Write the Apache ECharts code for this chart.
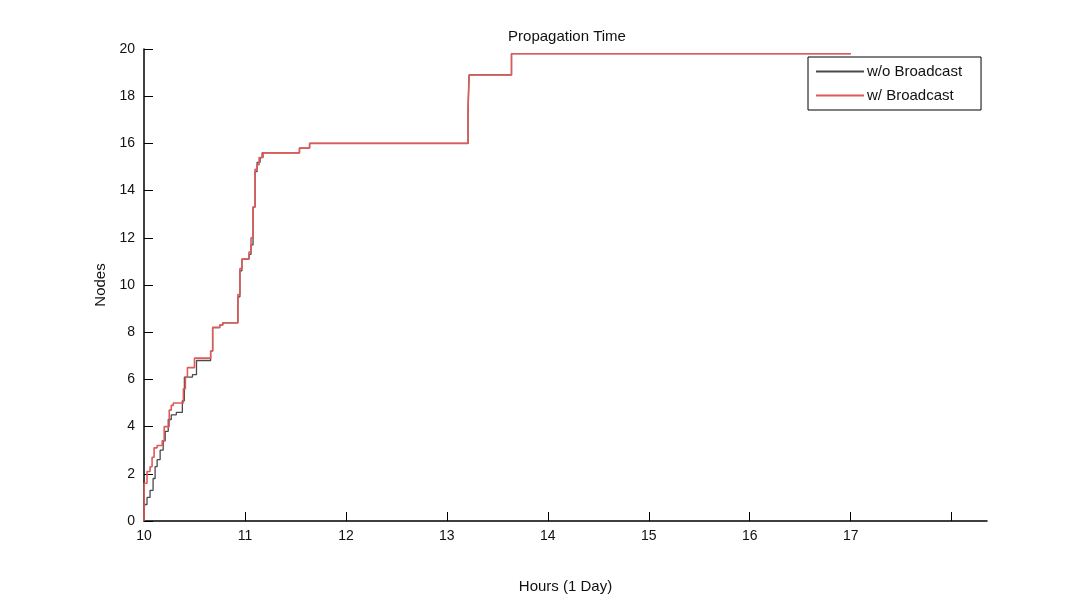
<!DOCTYPE html>
<html>
<head>
<meta charset="utf-8">
<script src="https://cdn.jsdelivr.net/npm/echarts@6/dist/echarts.min.js"></script>
<style>
  html, body { margin: 0; padding: 0; background: #ffffff; }
  #chart { width: 1077px; height: 605px; }
</style>
</head>
<body>
<div id="chart"></div>
<script>
// Cumulative node counts over time; each [hour, nodes] holds until the next point.
const seriesNames = ['w/o Broadcast', 'w/ Broadcast'];
const withoutBroadcast = [
  [10.00, 0.0], [10.005, 0.7], [10.03, 1.0], [10.06, 1.3], [10.09, 1.8], [10.11, 2.3],
  [10.13, 2.6], [10.16, 3.0], [10.19, 3.4], [10.21, 3.8], [10.24, 4.3], [10.27, 4.5],
  [10.32, 4.6], [10.38, 5.1], [10.40, 6.1], [10.48, 6.2], [10.52, 6.8], [10.66, 7.2],
  [10.68, 8.2], [10.75, 8.3], [10.78, 8.4], [10.93, 9.5], [10.95, 10.6], [10.97, 11.1],
  [11.04, 11.3], [11.06, 11.7], [11.08, 13.3], [11.10, 14.8], [11.12, 15.2],
  [11.15, 15.4], [11.17, 15.6], [11.19, 15.6], [11.54, 15.8], [11.64, 16.0],
  [13.21, 17.5], [13.22, 18.9], [13.64, 19.8], [17.00, 19.8]
];
const withBroadcast = [
  [10.00, 0.0], [10.002, 1.6], [10.03, 2.1], [10.06, 2.3], [10.08, 2.7], [10.10, 3.1],
  [10.13, 3.2], [10.18, 3.4], [10.20, 4.0], [10.25, 4.7], [10.27, 4.9], [10.29, 5.0],
  [10.39, 5.6], [10.41, 6.1], [10.43, 6.5], [10.50, 6.9], [10.66, 7.2], [10.68, 8.2],
  [10.75, 8.3], [10.78, 8.4], [10.93, 9.6], [10.95, 10.7], [10.97, 11.1], [11.04, 11.4],
  [11.06, 12.0], [11.08, 13.3], [11.10, 14.9], [11.12, 15.1], [11.14, 15.4],
  [11.18, 15.6], [11.54, 15.8], [11.64, 16.0], [13.21, 17.5], [13.22, 18.9],
  [13.64, 19.8], [17.00, 19.8]
];
const xTickLabels = ['10', '11', '12', '13', '14', '15', '16', '17', ''];
const yTicks = [0, 2, 4, 6, 8, 10, 12, 14, 16, 18, 20];

const FONT = "'Liberation Sans', Arial, sans-serif";
const chart = echarts.init(document.getElementById('chart'), null, { renderer: 'canvas' });

chart.setOption({
  animation: false,
  backgroundColor: '#ffffff',
  title: {
    text: 'Propagation Time',
    left: 562, textAlign: 'center', top: 24,
    textStyle: { fontFamily: FONT, fontSize: 15, fontWeight: 'normal', color: '#111' }
  },
  legend: {
    data: seriesNames,
    orient: 'vertical',
    left: 808, top: 57,
    padding: [7, 19, 7, 8],
    itemGap: 9,
    itemWidth: 48, itemHeight: 2,
    icon: 'rect',
    borderColor: '#000', borderWidth: 1,
    backgroundColor: '#fff',
    textStyle: { fontFamily: FONT, fontSize: 15, color: '#111', padding: [0, 0, 0, -2] }
  },
  grid: { left: 144, right: 90, top: 49, bottom: 84, containLabel: false },
  xAxis: {
    type: 'value',
    min: 10, max: 18.35, interval: 1,
    name: 'Hours (1 Day)',
    nameLocation: 'middle', nameGap: 58,
    nameTextStyle: { fontFamily: FONT, fontSize: 15, color: '#111' },
    axisLine: { lineStyle: { color: '#000', width: 1.5 } },
    axisTick: { inside: true, length: 9, lineStyle: { color: '#000', width: 1 } },
    axisLabel: {
      fontFamily: FONT, fontSize: 14, color: '#111', margin: 8,
      showMaxLabel: false,
      formatter: function (v) {
        const i = Math.round(v - 10);
        return xTickLabels[i] !== undefined ? xTickLabels[i] : '';
      }
    },
    splitLine: { show: false }
  },
  yAxis: {
    type: 'value',
    min: yTicks[0], max: yTicks[yTicks.length - 1], interval: 2,
    name: 'Nodes',
    nameLocation: 'middle', nameGap: 36, nameRotate: 90,
    nameTextStyle: { fontFamily: FONT, fontSize: 15, color: '#111' },
    axisLine: { show: true, lineStyle: { color: '#000', width: 1.5 } },
    axisTick: { show: true, inside: true, length: 9, lineStyle: { color: '#000', width: 1 } },
    axisLabel: { fontFamily: FONT, fontSize: 14, color: '#111', margin: 9 },
    splitLine: { show: false }
  },
  series: [
    {
      name: seriesNames[0], type: 'line', step: 'end',
      data: withoutBroadcast, showSymbol: false, symbol: 'none',
      lineStyle: { color: '#4a4a4a', width: 1.3 },
      itemStyle: { color: '#4a4a4a' }, z: 2
    },
    {
      name: seriesNames[1], type: 'line', step: 'end',
      data: withBroadcast, showSymbol: false, symbol: 'none',
      lineStyle: { color: '#e05a5a', width: 1.6 },
      itemStyle: { color: '#e05a5a' }, z: 3
    }
  ]
});
</script>
</body>
</html>
